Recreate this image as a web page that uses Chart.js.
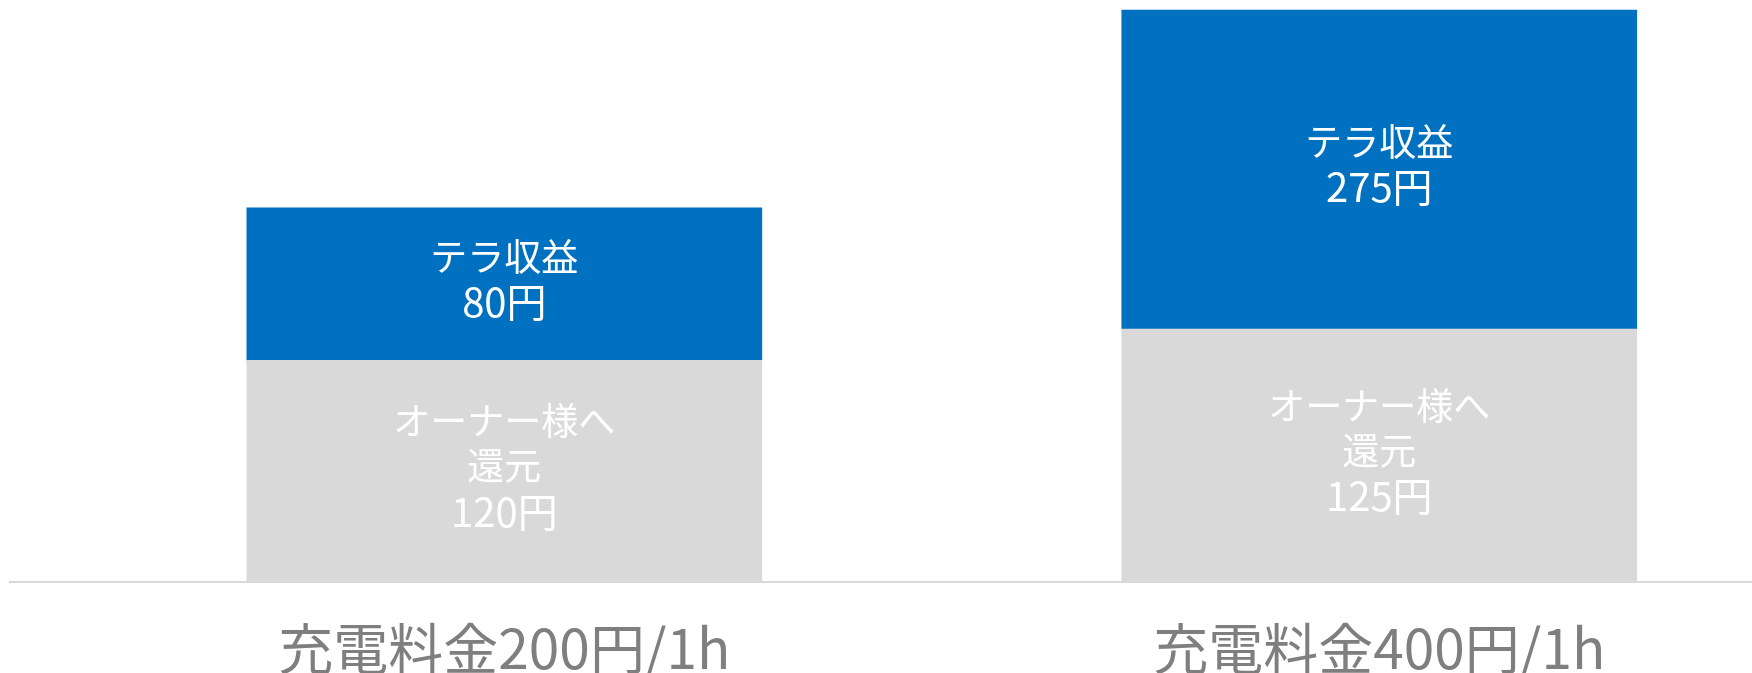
<!DOCTYPE html>
<html lang="ja">
<head>
<meta charset="utf-8">
<title>充電料金の内訳</title>
<script src="https://cdn.jsdelivr.net/npm/chart.js@4/dist/chart.umd.min.js"></script>
<style>
  html, body { margin: 0; padding: 0; background: #ffffff; }
  .wrap { width: 1752px; height: 673px; position: relative; }
</style>
</head>
<body>
<div class="wrap"><canvas id="feeChart"></canvas></div>
<script>
// categories along the bottom
const categories = ["充電料金200円/1h", "充電料金400円/1h"];

// bar heights as drawn in the picture (the picture is not to scale)
const ownerHeights = [120, 137];
const teraHeights = [82.5, 172.5];

// texts written inside each segment
const ownerLabels = [
  ["オーナー様へ", "還元", "120円"],
  ["オーナー様へ", "還元", "125円"]
];
const teraLabels = [
  ["テラ収益", "80円"],
  ["テラ収益", "275円"]
];

const FONT = '"Noto Sans CJK JP", "Noto Sans", sans-serif';

// writes the stacked lines of text centred in each bar segment
const segmentText = {
  id: "segmentText",
  afterDatasetsDraw(chart) {
    const { ctx } = chart;
    chart.data.datasets.forEach((ds, di) => {
      const meta = chart.getDatasetMeta(di);
      meta.data.forEach((bar, i) => {
        const lines = ds.segmentLines[i] || [];
        const lineGap = 45;
        const mid = (bar.y + bar.base) / 2 - 5;
        const start = mid - (lines.length - 1) * lineGap / 2;
        ctx.save();
        ctx.fillStyle = "#ffffff";
        ctx.textAlign = "center";
        ctx.textBaseline = "middle";
        lines.forEach((line, li) => {
          const size = ds.segmentSizes[li] || 37;
          ctx.font = `${size}px ${FONT}`;
          ctx.fillText(line, bar.x, start + li * lineGap);
        });
        ctx.restore();
      });
    });
  }
};

new Chart(document.getElementById("feeChart"), {
  type: "bar",
  data: {
    datasets: [
      {
        label: "オーナー様へ還元",
        data: categories.map((_, i) => ({ x: i, y: ownerHeights[i] })),
        backgroundColor: "#d9d9d9",
        segmentLines: ownerLabels,
        segmentSizes: [37, 37, 40]
      },
      {
        label: "テラ収益",
        data: categories.map((_, i) => ({ x: i, y: teraHeights[i] })),
        backgroundColor: "#0070c0",
        segmentLines: teraLabels,
        segmentSizes: [37, 40]
      }
    ]
  },
  options: {
    responsive: true,
    maintainAspectRatio: false,
    animation: false,
    barThickness: 515,
    layout: { padding: { left: 10, right: 0, top: 0, bottom: -40 } },
    scales: {
      x: {
        type: "linear",
        stacked: true,
        offset: false,
        bounds: "data",
        min: -0.565,
        max: 1.426,
        z: 1,
        grid: { display: false, drawTicks: false },
        border: { display: true, color: "#d9d9d9", width: 2 },
        afterBuildTicks: scale => {
          scale.ticks = categories.map((_, i) => ({ value: i }));
        },
        ticks: {
          autoSkip: false,
          maxRotation: 0,
          padding: 42,
          color: "#7f7f7f",
          font: { family: FONT, size: 55, lineHeight: 0.85 },
          callback: value => categories[value] ?? ""
        }
      },
      y: {
        stacked: true,
        display: false,
        min: 0,
        max: 315
      }
    },
    plugins: {
      legend: { display: false },
      tooltip: { enabled: false }
    }
  },
  plugins: [segmentText]
});
</script>
</body>
</html>
